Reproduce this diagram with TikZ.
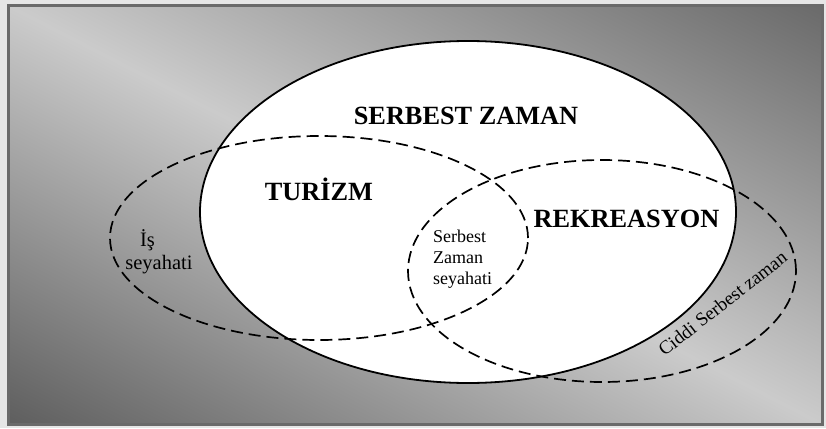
\documentclass[tikz,border=0pt]{standalone}
\usepackage{fontspec}
\setmainfont{Liberation Serif}
\definecolor{outerc}{HTML}{E6E6E6}
\definecolor{framec}{HTML}{6A6A6A}
\definecolor{lightc}{HTML}{CBCBCB}
\definecolor{darktr}{HTML}{6A6A6A}
\definecolor{darkbl}{HTML}{5E5E5E}
\begin{document}
\begin{tikzpicture}[x=1pt,y=-1pt,
  bigset/.style={draw=black, line width=1.8pt, fill=white},
  subset/.style={draw=black, line width=1.7pt, dash pattern=on 12pt off 6pt},
  biglabel/.style={font=\fontsize{26.3}{30}\selectfont\bfseries, inner sep=0pt, anchor=base},
  midlabel/.style={font=\fontsize{20.5}{24}\selectfont, inner sep=0pt, anchor=base},
  smalllabel/.style={font=\fontsize{18}{21}\selectfont, inner sep=0pt, anchor=base west},
  sidelabel/.style={font=\fontsize{19}{22}\selectfont, inner sep=0pt, anchor=base}
]
\useasboundingbox (0,0) rectangle (826,428);
\fill[outerc] (0,0) rectangle (826,428);
\begin{scope}
  \clip (8.5,5.5) rectangle (822.5,424.5);
  \shade[transform canvas={rotate around={-27.2:(415.5,215)}},
         top color=darktr, bottom color=darkbl, middle color=lightc]
    (-200,-157.5) rectangle (1031,587.5);
\end{scope}
\draw[framec, line width=3pt] (8.5,5.5) rectangle (822.5,424.5);
% leisure set
\draw[bigset] (468,212) ellipse [x radius=268pt, y radius=171pt];
% tourism and recreation sets
\draw[subset] (319,238) ellipse [x radius=209pt, y radius=102pt];
\draw[subset] (602,271) ellipse [x radius=194pt, y radius=111pt];
% labels
\node[biglabel] (sz) at (466,124) {SERBEST ZAMAN};
\node[biglabel] (tur) at (319,200) {TURİZM};
\node[biglabel] (rek) at (626.5,227) {REKREASYON};
\node[midlabel] (is1) at (147.5,246) {İş};
\node[midlabel] (is2) at (159,269) {seyahati};
\node[smalllabel] (szs1) at (433,242) {Serbest};
\node[smalllabel] (szs2) at (433,263) {Zaman};
\node[smalllabel] (szs3) at (433,284) {seyahati};
\node[sidelabel, rotate=38] (css) at (726.5,308.5) {Ciddi Serbest zaman};
\end{tikzpicture}
\end{document}
